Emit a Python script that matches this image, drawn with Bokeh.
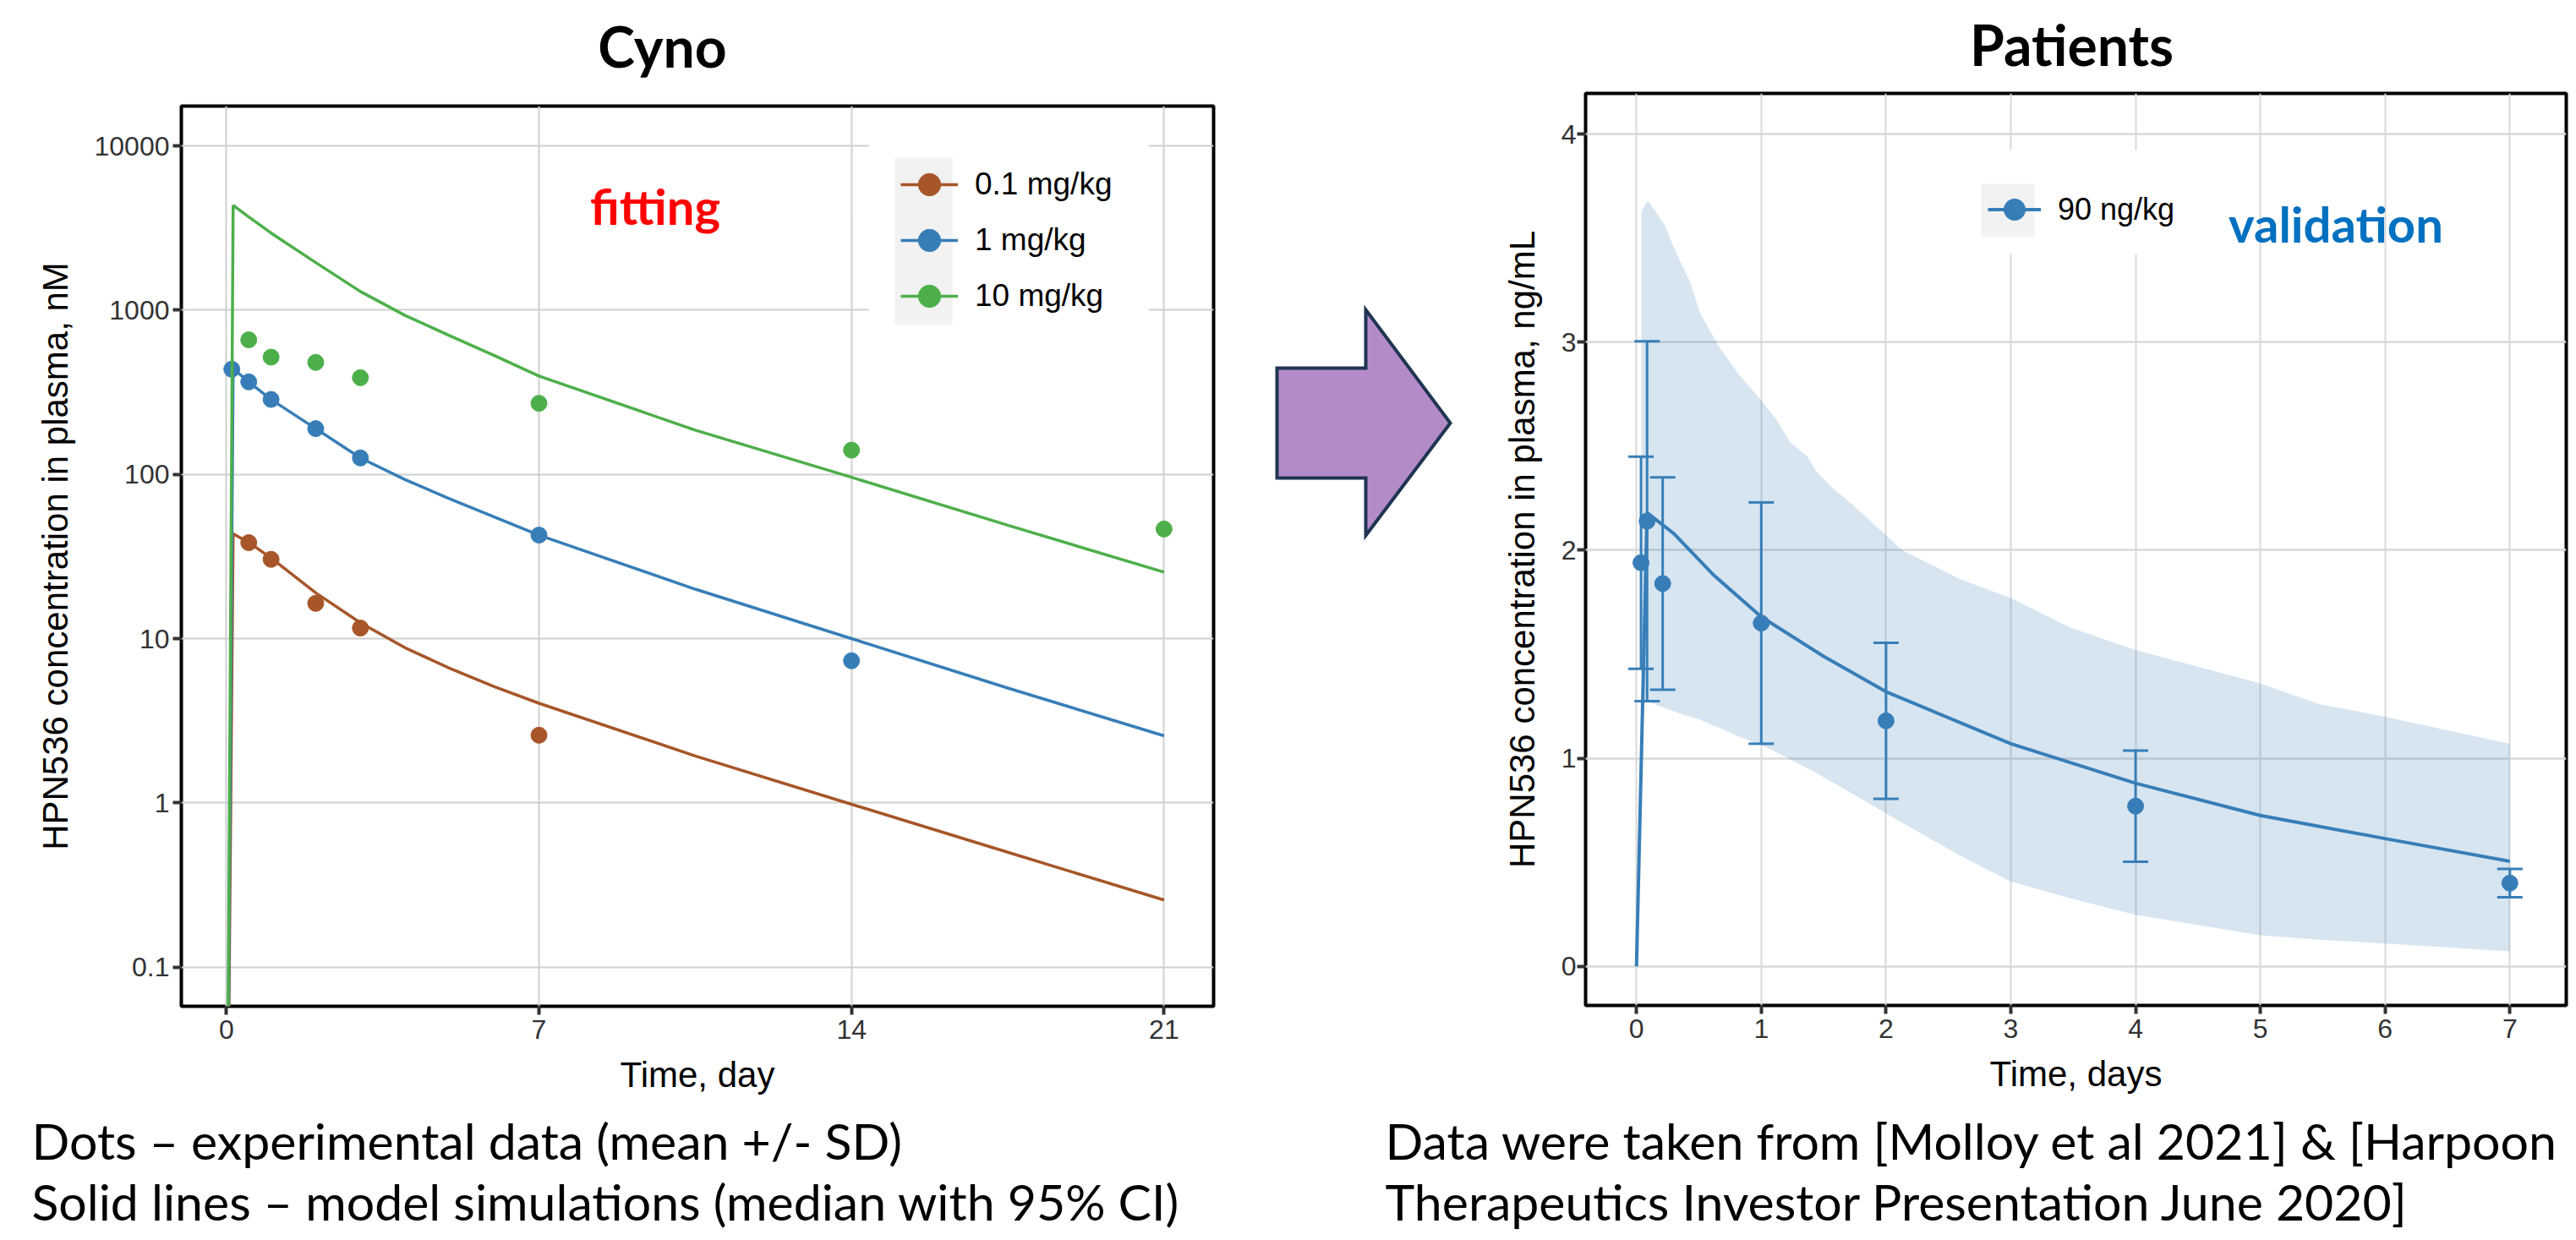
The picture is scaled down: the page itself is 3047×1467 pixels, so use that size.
from bokeh.plotting import figure
from bokeh.models import (Range1d, FixedTicker, CustomJSTickFormatter, Legend, LegendItem,
                          BoxAnnotation, Label, Whisker, TeeHead, ColumnDataSource, Spacer)
from bokeh.layouts import column, row
from bokeh.embed import file_html
from bokeh.resources import INLINE
from bokeh.core.properties import value
import math

# ---------------- data: Cyno ----------------
cyno_obs_time_01 = [0.5, 1, 2, 3, 7]
cyno_obs_01 = [38.4, 30.4, 16.4, 11.6, 2.58]
cyno_obs_time_1 = [0.12, 0.5, 1, 2, 3, 7, 14]
cyno_obs_1 = [437, 366, 286, 190, 126, 42.7, 7.33]
cyno_obs_time_10 = [0.5, 1, 2, 3, 7, 14, 21]
cyno_obs_10 = [660, 518, 481, 388, 271, 140.5, 46.5]

cyno_sim_time = [0, 0.15, 0.5, 1, 2, 3, 4, 5, 6, 7, 10.5, 14, 17.5, 21]
cyno_sim_01 = [0.001, 43.5, 38.5, 31.0, 19.0, 12.5, 8.8, 6.6, 5.1, 4.04, 1.93, 0.98, 0.50, 0.256]
cyno_sim_1 = [0.001, 440, 366, 286, 190, 126, 93, 71, 55, 42.7, 20.0, 10.0, 5.0, 2.56]
cyno_sim_10 = [0.001, 4350, 3700, 2950, 1950, 1300, 930, 700, 530, 397, 186, 96, 49, 25.4]

cyno_doses = ["0.1 mg/kg", "1 mg/kg", "10 mg/kg"]
cyno_colors = ["#A65628", "#377EB8", "#4DAF4A"]
cyno_x_ticks = [0, 7, 14, 21]
cyno_y_ticks = [0.1, 1, 10, 100, 1000, 10000]

# ---------------- data: Patients ----------------
pt_obs_time = [0.036, 0.085, 0.21, 1, 2, 4, 7]
pt_obs_mean = [1.94, 2.14, 1.84, 1.65, 1.18, 0.77, 0.40]
pt_obs_sd = [0.51, 0.865, 0.51, 0.58, 0.375, 0.267, 0.068]

pt_sim_time = [0, 0.085, 0.3, 0.62, 1, 1.5, 2, 3, 4, 5, 6, 7]
pt_sim_median = [0, 2.18, 2.08, 1.88, 1.68, 1.49, 1.32, 1.07, 0.88, 0.725, 0.614, 0.505]

pt_ci_time = [0.04, 0.09, 0.14, 0.23, 0.28, 0.35, 0.43, 0.51, 0.65, 0.80, 1.0, 1.12, 1.23,
              1.37, 1.44, 1.57, 1.73, 2.13, 2.6, 3.0, 3.47, 4.0, 5.0, 5.47, 6.0, 7.0]
pt_ci_high = [3.63, 3.68, 3.64, 3.56, 3.48, 3.39, 3.29, 3.14, 2.99, 2.86, 2.72, 2.63, 2.52,
              2.45, 2.38, 2.30, 2.22, 2.00, 1.86, 1.77, 1.63, 1.52, 1.36, 1.26, 1.20, 1.07]
pt_ci_low = [1.27, 1.27, 1.26, 1.24, 1.23, 1.215, 1.20, 1.185, 1.15, 1.11, 1.063, 1.03, 0.995,
             0.952, 0.93, 0.885, 0.83, 0.69, 0.53, 0.407, 0.328, 0.248, 0.149, 0.128, 0.11, 0.072]

pt_dose = "90 ng/kg"
pt_color = "#377EB8"
pt_x_ticks = [0, 1, 2, 3, 4, 5, 6, 7]
pt_y_ticks = [0, 1, 2, 3, 4]

# ---------------- layout constants (picture pixels; layout starts at 0,0) ----------------
TOTAL_W = 3044
TITLE_TOP, ROW_TOP, CAP_TOP, PAGE_BOTTOM = 0, 108, 1305, 1464
TITLE_H = ROW_TOP - TITLE_TOP
ROW_H = CAP_TOP - ROW_TOP
CAP_H = PAGE_BOTTOM - CAP_TOP
LEFT_W, ARROW_W = 1487, 235
RIGHT_X0 = LEFT_W + ARROW_W
RIGHT_W = TOTAL_W - RIGHT_X0

# frame edges
LF_L, LF_R, LF_T, LF_B = 214, 1435, 125, 1190
RF_L, RF_R, RF_T, RF_B = 1875, 3035, 110, 1189

L_X = (-1.01, 22.11)
L_Y = (10 ** -1.239, 10 ** 4.243)
R_X = (-0.408, 7.452)
R_Y = (-0.188, 4.196)

LABEL_DY = 23    # label annotation baseline correction (px)


def lx(px):
    return L_X[0] + (px - LF_L) / (LF_R - LF_L) * (L_X[1] - L_X[0])


def ly(py):
    a, b = math.log10(L_Y[0]), math.log10(L_Y[1])
    return 10 ** (b - (py - LF_T) / (LF_B - LF_T) * (b - a))


def rx(px):
    return R_X[0] + (px - RF_L) / (RF_R - RF_L) * (R_X[1] - R_X[0])


def ry(py):
    return R_Y[1] - (py - RF_T) / (RF_B - RF_T) * (R_Y[1] - R_Y[0])


TICK_FONT = "Liberation Sans"


def style_axes(p, ylab_standoff, xlab_standoff, ytick_standoff):
    for ax in (p.xaxis[0], p.yaxis[0]):
        ax.axis_line_color = None
        ax.major_tick_line_color = "#333333"
        ax.major_tick_line_width = 4
        ax.major_tick_out = 10
        ax.major_tick_in = 0
        ax.minor_tick_line_color = None
        ax.major_label_text_font = TICK_FONT
        ax.major_label_text_font_size = "32px"
        ax.major_label_text_color = "#333333"
        ax.axis_label_text_font = TICK_FONT
        ax.axis_label_text_font_size = "42px"
        ax.axis_label_text_font_style = "normal"
        ax.axis_label_text_color = "black"
    p.xaxis[0].major_label_standoff = 6
    p.xaxis[0].axis_label_standoff = xlab_standoff
    p.yaxis[0].major_label_standoff = ytick_standoff
    p.yaxis[0].axis_label_standoff = ylab_standoff
    p.outline_line_color = "black"
    p.outline_line_width = 4
    p.background_fill_color = "white"
    p.border_fill_color = "white"


def pixel_fig(w, h, x0, y0):
    f = figure(width=w, height=h, x_range=Range1d(x0, x0 + w), y_range=Range1d(y0 + h, y0),
               toolbar_location=None, output_backend="svg", min_border=0, title=None,
               x_axis_location=None, y_axis_location=None)
    f.grid.visible = False
    f.outline_line_color = None
    f.background_fill_color = "white"
    f.border_fill_color = "white"
    return f


# ---------------- title strip ----------------
tf = pixel_fig(TOTAL_W, TITLE_H, 0, TITLE_TOP)
tf.text(x=[783, 2450], y=[54, 52], text=["Cyno", "Patients"],
        text_font=value("Lato"), text_font_style="bold", text_font_size="66px",
        text_align="center", text_baseline="alphabetic", text_color="black")

# ---------------- left plot: Cyno ----------------
L_TOP_GAP = 15
lp = figure(frame_width=LF_R - LF_L, frame_height=LF_B - LF_T,
            x_range=Range1d(*L_X), y_range=Range1d(*L_Y),
            y_axis_type="log", toolbar_location=None, output_backend="svg", title=None,
            min_border_left=LF_L, min_border_right=LEFT_W - LF_R,
            min_border_top=LF_T - ROW_TOP - L_TOP_GAP,
            min_border_bottom=CAP_TOP - LF_B,
            x_axis_label="Time, day", y_axis_label="HPN536 concentration in plasma, nM")
lp.xaxis.ticker = FixedTicker(ticks=cyno_x_ticks)
lp.yaxis.ticker = FixedTicker(ticks=cyno_y_ticks)
lp.yaxis.formatter = CustomJSTickFormatter(code="return String(tick);")
style_axes(lp, ylab_standoff=20, xlab_standoff=16, ytick_standoff=4)
lp.grid.grid_line_color = "#D0D0D0"
lp.grid.grid_line_width = 2

sims = [cyno_sim_01, cyno_sim_1, cyno_sim_10]
obs_t = [cyno_obs_time_01, cyno_obs_time_1, cyno_obs_time_10]
obs_v = [cyno_obs_01, cyno_obs_1, cyno_obs_10]
items = []
for sim, ot, ov, col, lab in zip(sims, obs_t, obs_v, cyno_colors, cyno_doses):
    ln = lp.line(cyno_sim_time, sim, line_color=col, line_width=3.5)
    sc = lp.scatter(ot, ov, size=19, fill_color=col, line_color=col)
    items.append(LegendItem(label=lab, renderers=[ln, sc]))

lp.add_layout(BoxAnnotation(left=lx(1027), right=lx(1358), top=ly(160), bottom=ly(398),
                            fill_color="white", fill_alpha=1, line_color=None))
lp.add_layout(BoxAnnotation(left=lx(1058), right=lx(1126), top=ly(186), bottom=ly(384),
                            fill_color="#F2F2F2", fill_alpha=1, line_color=None))
lleg = Legend(items=items, location=(813 + 38, 774 + 33), glyph_width=68, glyph_height=66,
              spacing=0, padding=31, margin=0, label_standoff=20, border_line_color=None,
              background_fill_alpha=0, label_text_font=TICK_FONT, label_text_font_size="37px",
              label_text_color="black")
lp.add_layout(lleg)
lp.add_layout(Label(x=lx(774.5), y=ly(265.5 - LABEL_DY), text="fitting", text_font="Lato",
                    text_font_style="bold", text_font_size="58px", text_color="#FF0000",
                    text_align="center", text_baseline="alphabetic"))

left_col = column(Spacer(width=LEFT_W, height=L_TOP_GAP), lp)

# ---------------- arrow ----------------
af = pixel_fig(ARROW_W, ROW_H, LEFT_W, ROW_TOP)
arrow_x = [1510, 1615, 1615, 1715, 1615, 1615, 1510]
arrow_y = [435, 435, 366, 500, 633, 565, 565]
af.patch(arrow_x, arrow_y, fill_color="#B48BC9", line_color="#1F3552", line_width=4,
         line_join="miter")
arrow_col = column(af)

# ---------------- right plot: Patients ----------------
rp = figure(frame_width=RF_R - RF_L, frame_height=RF_B - RF_T,
            x_range=Range1d(*R_X), y_range=Range1d(*R_Y),
            toolbar_location=None, output_backend="svg", title=None,
            min_border_left=RF_L - RIGHT_X0, min_border_right=TOTAL_W - RF_R,
            min_border_top=RF_T - ROW_TOP, min_border_bottom=CAP_TOP - RF_B,
            x_axis_label="Time, days", y_axis_label="HPN536 concentration in plasma, ng/mL")
rp.xaxis.ticker = FixedTicker(ticks=pt_x_ticks)
rp.yaxis.ticker = FixedTicker(ticks=pt_y_ticks)
style_axes(rp, ylab_standoff=20, xlab_standoff=16, ytick_standoff=1)
rp.xgrid.grid_line_color = "#D9D9D9"
rp.xgrid.grid_line_width = 2
rp.ygrid.grid_line_color = "#D9D9D9"
rp.ygrid.grid_line_width = 2.5

rp.varea(x=pt_ci_time, y1=pt_ci_low, y2=pt_ci_high, fill_color=pt_color, fill_alpha=0.2)
rl = rp.line(pt_sim_time, pt_sim_median, line_color=pt_color, line_width=4)
rs = rp.scatter(pt_obs_time, pt_obs_mean, size=19, fill_color=pt_color, line_color=pt_color)
err_src = ColumnDataSource(dict(
    t=pt_obs_time,
    lo=[m - s for m, s in zip(pt_obs_mean, pt_obs_sd)],
    hi=[m + s for m, s in zip(pt_obs_mean, pt_obs_sd)],
))
rp.add_layout(Whisker(base="t", lower="lo", upper="hi", source=err_src, dimension="height",
                      line_color=pt_color, line_width=3, level="annotation",
                      upper_head=TeeHead(size=30, line_color=pt_color, line_width=3),
                      lower_head=TeeHead(size=30, line_color=pt_color, line_width=3)))

rp.add_layout(BoxAnnotation(left=rx(2313), right=rx(2600), top=ry(177), bottom=ry(300),
                            fill_color="white", fill_alpha=1, line_color=None))
rp.add_layout(BoxAnnotation(left=rx(2343), right=rx(2406), top=ry(217), bottom=ry(280),
                            fill_color="#F2F2F2", fill_alpha=1, line_color=None))
rleg = Legend(items=[LegendItem(label=pt_dose, renderers=[rl, rs])],
              location=(438 + 38, 879 + 31), glyph_width=63, glyph_height=63, spacing=0,
              padding=30, margin=0, label_standoff=20, border_line_color=None,
              background_fill_alpha=0, label_text_font=TICK_FONT, label_text_font_size="36px",
              label_text_color="black")
rp.add_layout(rleg)
rp.add_layout(Label(x=rx(2762.5), y=ry(287 - LABEL_DY), text="validation", text_font="Lato",
                    text_font_style="bold", text_font_size="58px", text_color="#0070C0",
                    text_align="center", text_baseline="alphabetic"))
right_col = column(rp)

# ---------------- captions ----------------
cf = pixel_fig(TOTAL_W, CAP_H, 0, CAP_TOP)
cf.text(x=[37, 37, 1638, 1638],
        y=[1349, 1421, 1349, 1421],
        text=["Dots \u2013 experimental data (mean +/- SD)",
              "Solid lines \u2013 model simulations (median with 95% CI)",
              "Data were taken from [Molloy et al 2021] & [Harpoon",
              "Therapeutics Investor Presentation June 2020]"],
        text_font=value("Lato"), text_font_size="59px", text_align="left",
        text_baseline="alphabetic", text_color="black")

layout = column(tf, row(left_col, arrow_col, right_col), cf)
open("out.html", "w").write(file_html(layout, INLINE))
